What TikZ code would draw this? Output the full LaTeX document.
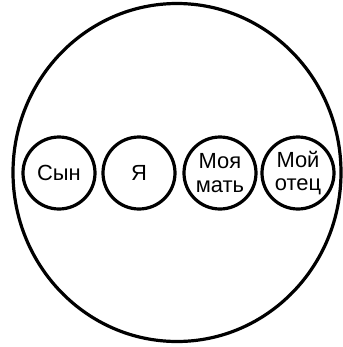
\documentclass[tikz,border=0pt]{standalone}
\usepackage{fontspec}
\setmainfont{Liberation Sans}
\begin{document}
\begin{tikzpicture}[x=1bp,y=-1bp,
  person/.style={draw,circle,line width=3.2bp,minimum size=72bp,inner sep=0pt,align=center,
    font=\fontsize{22}{24}\selectfont}]
\useasboundingbox (0,0) rectangle (343,347);
\draw[line width=3.2bp] (177,172.5) ellipse [x radius=164, y radius=169];
\node[person] (son) at (59,173) {Сын};
\node[person] (me) at (139,173) {Я};
\node[person] (mother) at (220,173) {Моя\\мать};
\node[person] (father) at (298,173) {Мой\\отец};
\end{tikzpicture}
\end{document}
